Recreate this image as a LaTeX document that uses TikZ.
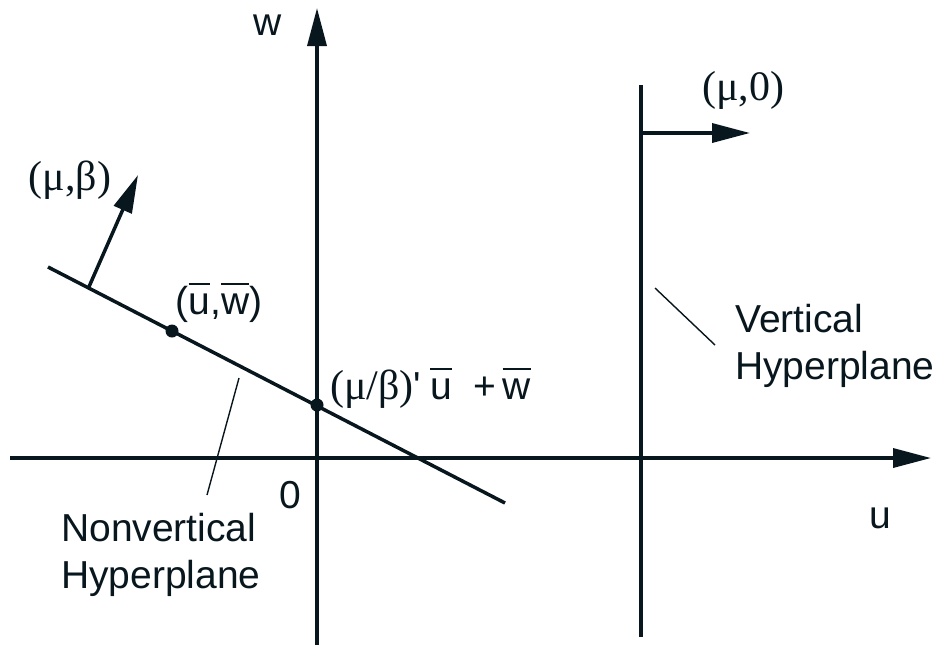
\documentclass[tikz,border=0pt]{standalone}
\usepackage{fontspec}
\setmainfont{Liberation Sans}
\newfontfamily\grk{Liberation Serif}
\usetikzlibrary{arrows.meta, positioning, calc}
\definecolor{inkNavy}{RGB}{8,22,30}

\newcommand{\ovl}[1]{\leavevmode\vbox{\hrule height 2.6pt \kern 8pt \hbox{#1}}}

\begin{document}
\begin{tikzpicture}[x=1pt, y=-1pt, color=inkNavy,
		axisline/.style={line width=3.5pt, -{Triangle[length=38pt, width=19pt]}},
		plane/.style={line width=3.5pt},
		leader/.style={line width=1.4pt},
		dot/.style={circle, fill, inner sep=0pt, minimum size=13pt},
		lbl/.style={font=\fontsize{39}{47}\selectfont, inner sep=0pt},
		glbl/.style={font=\fontsize{42}{47}\grk, inner sep=0pt}]
				\useasboundingbox (0,0) rectangle (941,649);
				\coordinate (uL) at (10,458);
				\coordinate (uR) at (931,458);
				\coordinate (wB) at (317,645);
				\coordinate (wT) at (317,8);
				\draw[axisline] (uL) -- (uR);
				\draw[axisline] (wB) -- (wT);
				\node[lbl] (wlab) at (268,25) {w};
				\node[lbl] (ulab) at (880,518) {u};
				\node[lbl] (zero) at (290,495) {0};
				\coordinate (vT) at (641,85);
				\coordinate (vB) at (641,637);
				\coordinate (vN) at (641,133);
				\coordinate (vNend) at (750,133);
				\draw[plane] (vT) -- (vB);
				\draw[axisline] (vN) -- (vNend);
				\node[glbl] (mu0) at (743,90) {(μ,0)};
				\coordinate (nA) at (48,267);
				\coordinate (nB) at (505,503);
				\coordinate (nN) at (88,289);
				\coordinate (nNend) at (138,175);
				\draw[plane] (nA) -- (nB);
				\draw[axisline] (nN) -- (nNend);
				\node[glbl] (mubeta) at (70,180) {(μ,β)};
				\node[dot] (pt) at (172,331) {};
				\node[dot] (icpt) at (317,405) {};
				\node[lbl, anchor=base] (ptlab) at (219,314) {(\ovl{u},\ovl{w})};
				\node[lbl, anchor=base west] (iclab) at (330,399) {{\fontsize{42}{47}\grk(μ/β)}\textquotesingle\hspace{9pt}\ovl{u}\hspace{22pt}+\hspace{6pt}\ovl{w}};
				\node[lbl, anchor=west, align=left] (nvlab) at (61,555) {Nonvertical\\Hyperplane};
				\node[lbl, anchor=west, align=left] (vlab) at (735,346) {Vertical\\Hyperplane};
				\coordinate (nvtip) at (239,378);
				\coordinate (nvend) at (207,495);
				\coordinate (vtip) at (655,288);
				\coordinate (vend) at (715,345);
				\draw[leader] (nvtip) -- (nvend);
				\draw[leader] (vtip) -- (vend);
			\end{tikzpicture}
\end{document}
